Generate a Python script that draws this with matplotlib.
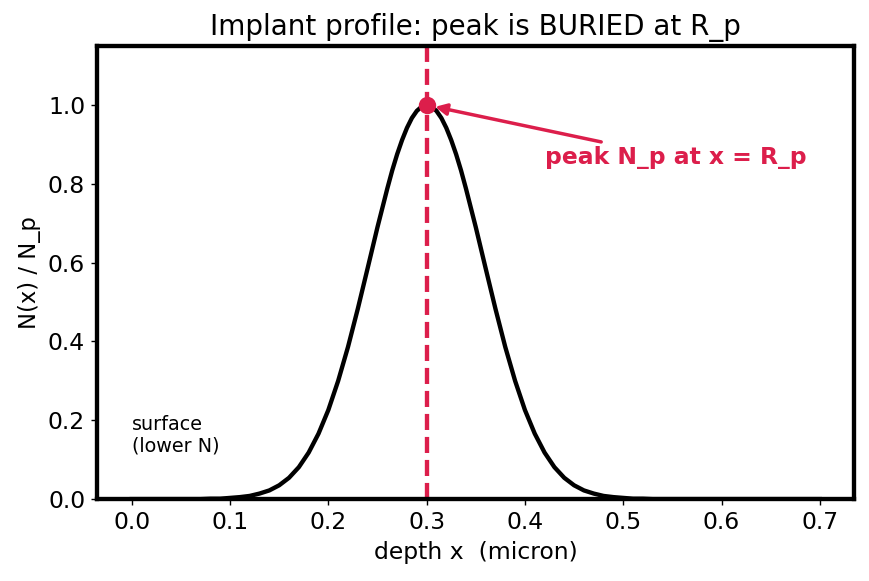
import matplotlib
matplotlib.use("Agg")
import matplotlib.pyplot as plt

# depth (micron) and normalised concentration
# (denser readings around the peak); rows of the two lists line up
depth = [0.00, 0.01, 0.02, 0.03, 0.04, 0.05, 0.06, 0.07, 0.08, 0.09,
         0.10, 0.11, 0.12, 0.13, 0.14, 0.15, 0.16, 0.17, 0.18, 0.19,
         0.20, 0.21, 0.22, 0.23, 0.24, 0.25, 0.26,
         0.265, 0.27, 0.275, 0.28, 0.285, 0.29, 0.295,
         0.30,
         0.305, 0.31, 0.315, 0.32, 0.325, 0.33, 0.335,
         0.34, 0.35, 0.36, 0.37, 0.38, 0.39, 0.40, 0.41, 0.42, 0.43,
         0.44, 0.45, 0.46, 0.47, 0.48, 0.49, 0.50, 0.51, 0.52, 0.53,
         0.54, 0.55, 0.56, 0.57, 0.58, 0.59, 0.60, 0.61, 0.62, 0.63,
         0.64, 0.65, 0.66, 0.67, 0.68, 0.69, 0.70]
conc = [0.000, 0.000, 0.000, 0.000, 0.000, 0.000, 0.000, 0.000, 0.001, 0.001,
        0.003, 0.005, 0.008, 0.014, 0.022, 0.035, 0.054, 0.081, 0.118, 0.166,
        0.226, 0.300, 0.386, 0.483, 0.586, 0.690, 0.788,
        0.834, 0.875, 0.911, 0.942, 0.967, 0.985, 0.996,
        1.000,
        0.996, 0.985, 0.967, 0.942, 0.911, 0.875, 0.834,
        0.788, 0.690, 0.586, 0.483, 0.386, 0.300, 0.226, 0.166, 0.118, 0.081,
        0.054, 0.035, 0.022, 0.014, 0.008, 0.005, 0.003, 0.001, 0.001, 0.000,
        0.000, 0.000, 0.000, 0.000, 0.000, 0.000, 0.000, 0.000, 0.000, 0.000,
        0.000, 0.000, 0.000, 0.000, 0.000, 0.000, 0.000]
Rp = 0.30
Np = 1.0

red = "#DC1E4B"

fig, ax = plt.subplots(figsize=(6.952, 4.648), dpi=125)
ax.plot(depth, conc, color="black", lw=2.5)
ax.axvline(Rp, color=red, ls="--", lw=2.5)
ax.plot([Rp], [Np], "o", color=red, ms=9)
ax.annotate("peak N_p at x = R_p", xy=(Rp, Np), xytext=(0.42, 0.85),
            color=red, fontsize=13.5, fontweight="bold",
            arrowprops=dict(arrowstyle="-|>", color=red, lw=2, shrinkB=5))
ax.text(0.0, 0.12, "surface\n(lower N)", fontsize=11)

ax.set_ylim(0, 1.15)
ax.set_title("Implant profile: peak is BURIED at R_p", fontsize=16)
ax.set_xlabel("depth x  (micron)", fontsize=13.5)
ax.set_ylabel("N(x) / N_p", fontsize=13)
ax.tick_params(labelsize=13.5)
for s in ax.spines.values():
    s.set_linewidth(2.5)

fig.subplots_adjust(left=0.112, right=0.983, top=0.921, bottom=0.141)
fig.savefig("out.png")
